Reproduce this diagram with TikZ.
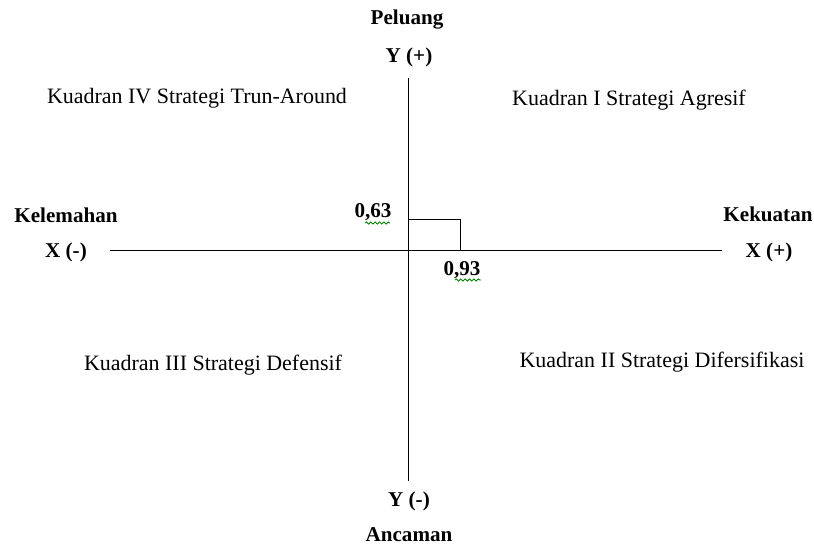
\documentclass[tikz,border=0pt]{standalone}
\usepackage{fontspec}
\setmainfont{Liberation Serif}
\usepackage{tikz}
\usetikzlibrary{decorations.pathmorphing}

\begin{document}
\begin{tikzpicture}[x=0.02cm, y=-0.02cm,
    lbl/.style={font=\bfseries\fontsize{12}{14}\selectfont, inner sep=1pt},
    quad/.style={font=\fontsize{12.5}{14}\selectfont, inner sep=1pt},
    squiggle/.style={green!50!black, line width=0.5pt, decorate,
        decoration={snake, amplitude=0.6pt, segment length=2.5pt}}]
            \useasboundingbox (0,0) rectangle (814,545);
            % axes
            \coordinate (o) at (408,250);
            \coordinate (xl) at (110,250);
            \coordinate (xr) at (722,250);
            \coordinate (yt) at (408,78);
            \coordinate (yb) at (408,481);
            \draw (xl) -- (xr);
            \draw (yt) -- (yb);
            % point (0,93 ; 0,63)
            \coordinate (p) at (460,219);
            \draw (o |- p) -- (p) -- (p |- o);
            \node[lbl] (vy) at (373,212) {0,63};
            \node[lbl] (vx) at (462,270) {0,93};
            \draw[squiggle] (365,223) -- (390,223);
            \draw[squiggle] (455,280) -- (481,280);
            % axis labels
            \node[lbl] (peluang) at (407,20) {Peluang};
            \node[lbl] (ypos) at (409,57) {Y (+)};
            \node[lbl] (yneg) at (409,501) {Y (-)};
            \node[lbl] (ancaman) at (409,535) {Ancaman};
            \node[lbl] (kelemahan) at (66,215) {Kelemahan};
            \node[lbl] (xneg) at (66,252) {X (-)};
            \node[lbl] (kekuatan) at (768,214) {Kekuatan};
            \node[lbl] (xpos) at (769,252) {X (+)};
            % quadrants
            \node[quad] (k4) at (197,98) {Kuadran IV Strategi Trun-Around};
            \node[quad] (k1) at (629,100) {Kuadran I Strategi Agresif};
            \node[quad] (k3) at (213,365) {Kuadran III Strategi Defensif};
            \node[quad] (k2) at (662,362) {Kuadran II Strategi Difersifikasi};
        \end{tikzpicture}
\end{document}
